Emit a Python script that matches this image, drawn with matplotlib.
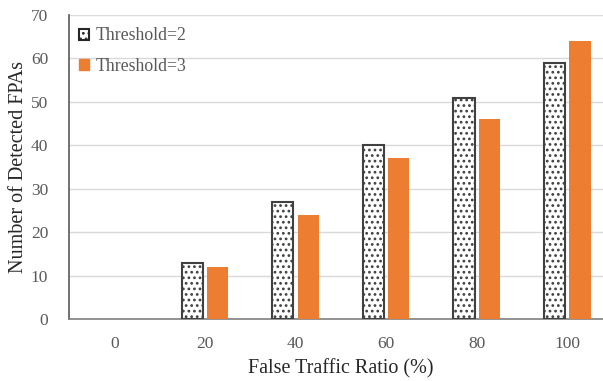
import matplotlib
matplotlib.use("Agg")
import matplotlib.pyplot as plt
from matplotlib.patches import Patch
import numpy as np

categories = ["0", "20", "40", "60", "80", "100"]
threshold2 = [0, 13, 27, 40, 51, 59]
threshold3 = [0, 12, 24, 37, 46, 64]

plt.rcParams['font.family'] = ['Liberation Serif', 'DejaVu Serif']
plt.rcParams['hatch.linewidth'] = 1.2

fig = plt.figure(figsize=(6.03, 3.81), dpi=100)
ax = fig.add_axes([69/603, 1-319/381, 543.6/603, 304/381])

x = np.arange(len(categories))
w = 0.235
off = 0.14
bars2 = ax.bar(x - off, threshold2, w, facecolor='white', edgecolor='#404040',
               hatch='...', linewidth=1.5, zorder=3)
for b, v in zip(bars2, threshold2):
    if v == 0:
        b.set_visible(False)
ax.bar(x + off, threshold3, w, color='#ED7D31', zorder=3)

ax.set_xlim(-0.5, 5.5)
ax.set_ylim(0, 70)
ax.set_yticks(range(0, 71, 10))
ax.set_xticks(x)
ax.set_xticklabels(categories)
ax.yaxis.grid(True, color='#D9D9D9', linewidth=1, zorder=0)
ax.set_axisbelow(True)
for s in ['top', 'right']:
    ax.spines[s].set_visible(False)
ax.spines['left'].set_color('#595959')
ax.spines['left'].set_linewidth(1.2)
ax.spines['bottom'].set_color('#808080')
ax.spines['bottom'].set_linewidth(1.2)
ax.tick_params(axis='both', length=0, labelsize=12.5, labelcolor='#595959')
ax.tick_params(axis='y', pad=15)
ax.tick_params(axis='x', pad=12)

ax.set_xlabel('False Traffic Ratio (%)', fontsize=14.5, color='#262626', labelpad=5)
ax.set_ylabel('Number of Detected FPAs', fontsize=14.5, color='#262626')
ax.yaxis.set_label_coords(-0.075, 0.5)

handles = [Patch(facecolor='white', edgecolor='#262626', hatch='...', linewidth=1.5),
           Patch(facecolor='#ED7D31', edgecolor='#ED7D31')]
leg = ax.legend(handles, ['Threshold=2', 'Threshold=3'], loc='upper left',
                frameon=False, fontsize=12.8, handlelength=0.6,
                handleheight=0.6, handletextpad=0.35, labelspacing=0.75,
                bbox_to_anchor=(-0.005, 1.0), borderaxespad=0.3)
for t in leg.get_texts():
    t.set_color('#595959')

fig.savefig('out.png', dpi=100)
